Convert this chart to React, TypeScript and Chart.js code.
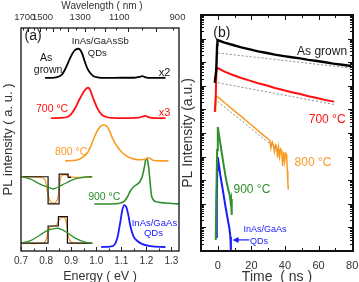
import React, { useEffect, useRef } from 'react';
import { Chart, registerables } from 'chart.js';

Chart.register(...registerables);

const FONT = '"Liberation Sans", Arial, Helvetica, sans-serif';
Chart.defaults.font.family = FONT;
Chart.defaults.color = '#333';

const RED = '#ff1010';
const ORANGE = '#f99a22';
const GREEN = '#2f8f2f';
const BLUE = '#1a1aff';
const DARK = '#1a1a1a';
const FIT = '#8a8a8a';

// ---------- Panel (a): PL spectra (energy eV, offset intensity) ----------
const asGrownE = [0.796, 0.84, 0.864, 0.876, 0.888, 0.9, 0.912, 0.92, 0.928, 0.936, 0.944, 0.954, 0.964, 0.976, 0.988, 1.004, 1.04, 1.1, 1.15, 1.172, 1.184, 1.196, 1.22, 1.276];
const asGrownI = [77.6, 77.9, 79.2, 81.5, 84.5, 87.5, 89.7, 90.5, 90.7, 90.2, 88.5, 85.0, 82.0, 79.8, 78.5, 77.9, 77.6, 77.7, 77.7, 78.1, 78.4, 77.9, 77.6, 77.7];

const a700E = [0.82, 0.856, 0.884, 0.9, 0.916, 0.936, 0.952, 0.962, 0.968, 0.974, 0.98, 0.992, 1.004, 1.02, 1.04, 1.064, 1.1, 1.136, 1.17, 1.184, 1.196, 1.208, 1.236, 1.276];
const a700I = [59.6, 59.7, 60.1, 61.4, 64.1, 68.6, 71.7, 73.0, 73.2, 72.6, 70.9, 67.3, 64.1, 61.4, 60.1, 59.7, 59.6, 59.6, 59.8, 60.3, 60.6, 60.0, 59.6, 59.6];

const a800E = [0.876, 0.924, 0.948, 0.964, 0.976, 0.988, 1.0, 1.012, 1.024, 1.032, 1.04, 1.048, 1.058, 1.068, 1.078, 1.088, 1.1, 1.116, 1.132, 1.148, 1.17, 1.19, 1.2, 1.208, 1.216, 1.228, 1.26, 1.288];
const a800I = [40.4, 40.8, 42.2, 43.9, 46.5, 49.8, 53.0, 55.3, 56.4, 56.5, 56.1, 55.0, 52.5, 49.8, 47.8, 46.2, 44.5, 43.0, 41.9, 41.3, 40.9, 41.0, 41.5, 41.8, 41.4, 40.6, 40.4, 40.4];

const a900E = [0.992, 1.056, 1.096, 1.112, 1.124, 1.136, 1.148, 1.164, 1.176, 1.184, 1.192, 1.198, 1.202, 1.208, 1.214, 1.22, 1.228, 1.244, 1.276, 1.332];
const a900I = [21.1, 21.1, 21.5, 22.4, 24.2, 26.9, 28.7, 30.0, 31.4, 33.6, 37.7, 41.2, 41.5, 38.5, 31.8, 25.1, 22.9, 22.0, 21.5, 21.1];

const gaasE = [1.02, 1.056, 1.072, 1.084, 1.096, 1.104, 1.112, 1.12, 1.128, 1.136, 1.148, 1.164, 1.184, 1.216, 1.276];
const gaasI = [1.8, 2.0, 2.7, 5.8, 13.0, 18.4, 20.6, 19.7, 16.1, 11.2, 6.7, 4.5, 3.1, 2.2, 1.8];

// band-profile insets
const insTopBlackE = [0.696, 0.808, 0.808, 0.852, 0.852, 0.888, 0.888, 0.9];
const insTopBlackI = [33.3, 33.3, 21.1, 21.1, 34.5, 34.5, 33.0, 33.0];
const insTopOrangeE = [0.696, 0.78, 0.795, 0.805, 0.815, 0.83, 0.845, 0.852, 0.86, 0.872, 0.885, 0.9, 0.984];
const insTopOrangeI = [33.2, 33.0, 32.0, 27.0, 22.5, 21.5, 23.0, 28.0, 33.5, 34.3, 33.8, 33.1, 33.0];
const insTopGreenE = [0.696, 0.736, 0.776, 0.816, 0.828, 0.848, 0.88, 0.916, 0.956, 0.984];
const insTopGreenI = [33.6, 32.3, 30.0, 28.3, 27.8, 28.7, 30.5, 32.3, 33.2, 33.3];

const insBotBlackE = [0.696, 0.808, 0.808, 0.849, 0.849, 0.885, 0.885, 0.984];
const insBotBlackI = [3.5, 3.5, 11.2, 11.2, 15.4, 15.4, 3.5, 3.5];
const insBotOrangeE = [0.696, 0.79, 0.8, 0.81, 0.82, 0.84, 0.85, 0.86, 0.875, 0.882, 0.89, 0.9, 0.92, 0.984];
const insBotOrangeI = [3.5, 3.6, 5.0, 9.5, 11.0, 11.4, 13.5, 15.0, 14.8, 12.0, 6.0, 4.0, 3.5, 3.5];
const insBotGreenE = [0.696, 0.736, 0.776, 0.808, 0.843, 0.856, 0.88, 0.916, 0.956, 0.984];
const insBotGreenI = [3.6, 4.5, 7.2, 9.4, 10.2, 9.9, 8.5, 5.8, 4.0, 3.5];

const energyTicks = [0.7, 0.8, 0.9, 1.0, 1.1, 1.2, 1.3];
const energyMinorTicks = [0.7, 0.75, 0.8, 0.85, 0.9, 0.95, 1.0, 1.05, 1.1, 1.15, 1.2, 1.25, 1.3];
const wavelengthLabels = ['1700', '1500', '1300', '1100', '900'];
const wavelengthLabelEnergy = [0.715, 0.786, 0.936, 1.092, 1.324];
const wavelengthMinorTicks = [1750, 1700, 1650, 1600, 1550, 1500, 1450, 1400, 1350, 1300, 1250, 1200, 1150, 1100, 1050, 1000, 950];

// ---------- Panel (b): decays (time ns, log10 intensity) ----------
const bGrownT = [-1.8, -0.9, -0.4, -0.2, 4, 9, 14, 19.1, 24, 29.3, 34, 39.4, 44, 49, 54, 59.1, 64, 68.7, 74, 79.4];
const bGrownL = [7.12, 7.67, 8.73, 8.94, 8.83, 8.73, 8.63, 8.54, 8.46, 8.39, 8.32, 8.26, 8.21, 8.16, 8.1, 8.05, 8.0, 7.94, 7.89, 7.84];
const bGrownFitT = [0, 79.4];
const bGrownFitL = [8.39, 7.75];

const b700T = [-1.8, -1.2, -0.8, 0, 4, 9, 14, 19.1, 24, 29.3, 34, 38.8, 44, 49, 54, 59.1, 64, 69.3];
const b700L = [5.89, 6.61, 7.75, 7.75, 7.6, 7.46, 7.33, 7.22, 7.11, 7.01, 6.91, 6.82, 6.73, 6.65, 6.56, 6.48, 6.4, 6.33];
const b700FitT = [0, 70];
const b700FitL = [7.13, 6.2];

const b800T = [-1.4, -0.8, 0, 5, 10, 15, 20, 25, 28, 30, 31, 31.6, 32.4, 33, 33.8, 34.4, 35, 35.6, 36.2, 36.8, 37.4, 38, 38.6, 39.2, 39.8, 40.4, 41, 41.4, 41.7, 42];
const b800L = [5.9, 6.55, 6.53, 6.23, 5.93, 5.64, 5.34, 5.04, 4.86, 4.74, 4.68, 4.35, 4.62, 4.5, 4.2, 4.5, 4.44, 3.95, 4.38, 4.0, 4.32, 4.26, 3.6, 4.2, 3.8, 4.14, 4.09, 3.4, 2.9, 2.6];
const b800FitT = [0, 37];
const b800FitL = [6.33, 4.2];

const b900T = [-1.2, -0.9, -0.4, 0, 1.2, 2.4, 3.6, 4.8, 6.0, 7.2, 7.6, 7.9, 8.2, 8.4];
const b900L = [0.47, 2.16, 4.28, 5.25, 4.7, 4.15, 3.6, 3.09, 2.67, 2.33, 2.1, 2.2, 1.8, 1.53];

const bGaasT = [-0.9, -0.6, -0.3, 0, 1.5, 3.0, 4.5, 6.0, 6.9, 7.5, 7.8];
const bGaasL = [0.59, 2.16, 3.43, 3.98, 3.22, 2.58, 1.91, 1.31, 0.97, 0.59, 0.0];

const timeTicks = [0, 20, 40, 60, 80];
const timeMinorTicks = [-10, 0, 10, 20, 30, 40, 50, 60, 70, 80];

type Ann = { t: string; x: number; y: number; c: string; s: number };

const annA: Ann[] = [
  { t: '(a)', x: 0.748, y: 96.4, c: DARK, s: 14 },
  { t: 'InAs/GaAsSb', x: 1.016, y: 94.2, c: DARK, s: 9.5 },
  { t: 'QDs', x: 1.004, y: 88.8, c: DARK, s: 9.5 },
  { t: 'As', x: 0.8, y: 86.5, c: DARK, s: 10.5 },
  { t: 'grown', x: 0.808, y: 81.2, c: DARK, s: 10.5 },
  { t: 'x2', x: 1.272, y: 79.8, c: DARK, s: 11 },
  { t: '700 °C', x: 0.824, y: 63.7, c: RED, s: 10.5 },
  { t: 'x3', x: 1.272, y: 61.9, c: RED, s: 11 },
  { t: '800 °C', x: 0.9, y: 44.4, c: ORANGE, s: 10.5 },
  { t: '900 °C', x: 1.032, y: 24.2, c: GREEN, s: 10.5 },
  { t: 'InAs/GaAs', x: 1.232, y: 12.6, c: BLUE, s: 9.5 },
  { t: 'QDs', x: 1.228, y: 8.1, c: BLUE, s: 9.5 },
];

const annB: Ann[] = [
  { t: '(b)', x: 2.4, y: 9.24, c: DARK, s: 14 },
  { t: 'As grown', x: 62.1, y: 8.43, c: DARK, s: 12 },
  { t: '700 °C', x: 65.1, y: 5.55, c: RED, s: 12 },
  { t: '800 °C', x: 56.7, y: 3.73, c: ORANGE, s: 12 },
  { t: '900 °C', x: 20.3, y: 2.58, c: GREEN, s: 12 },
  { t: 'InAs/GaAs', x: 28.1, y: 0.89, c: BLUE, s: 9 },
  { t: 'QDs', x: 24.5, y: 0.42, c: BLUE, s: 9 },
];
const arrowB = { x0: 18.8, x1: 8.8, y: 0.47 };

function pts(xs: number[], ys: number[], logY = false) {
  return xs.map((x, i) => ({ x, y: logY ? Math.pow(10, ys[i]) : ys[i] }));
}

function lineDs(xs: number[], ys: number[], color: string, width: number, extra: any = {}) {
  return {
    data: pts(xs, ys),
    borderColor: color,
    borderWidth: width,
    pointRadius: 0,
    fill: false,
    cubicInterpolationMode: 'monotone',
    ...extra,
  };
}

function logDs(xs: number[], ys: number[], color: string, width: number, extra: any = {}) {
  return {
    data: pts(xs, ys, true),
    borderColor: color,
    borderWidth: width,
    pointRadius: 0,
    fill: false,
    tension: 0,
    ...extra,
  };
}

function drawAnns(ctx: CanvasRenderingContext2D, chart: any, anns: Ann[], logY: boolean) {
  const xs = chart.scales.x;
  const ys = chart.scales.y;
  anns.forEach((a) => {
    ctx.font = `${a.s}px ${FONT}`;
    ctx.fillStyle = a.c;
    ctx.textAlign = 'center';
    ctx.textBaseline = 'middle';
    const py = ys.getPixelForValue(logY ? Math.pow(10, a.y) : a.y);
    ctx.fillText(a.t, xs.getPixelForValue(a.x), py);
  });
}

const panelAPlugin = {
  id: 'panelA',
  afterDraw(chart: any) {
    const { ctx, chartArea: a, scales } = chart;
    const xs = scales.x;
    ctx.save();
    ctx.strokeStyle = '#222';
    ctx.lineWidth = 1;
    ctx.beginPath();
    energyMinorTicks.forEach((v) => {
      const px = Math.round(xs.getPixelForValue(v)) + 0.5;
      const major = energyTicks.some((t) => Math.abs(t - v) < 1e-6);
      const L = major ? 4 : 2.5;
      ctx.moveTo(px, a.bottom);
      ctx.lineTo(px, a.bottom - L);
    });
    wavelengthMinorTicks.forEach((w) => {
      const e = 1240 / w;
      if (e < xs.min || e > xs.max) return;
      const px = Math.round(xs.getPixelForValue(e)) + 0.5;
      const L = w % 100 === 0 ? 4 : 2.5;
      ctx.moveTo(px, a.top);
      ctx.lineTo(px, a.top + L);
    });
    ctx.stroke();
    ctx.lineWidth = 1.4;
    ctx.strokeRect(a.left, a.top, a.right - a.left, a.bottom - a.top);
    // secondary (wavelength) axis labels and title
    ctx.fillStyle = '#333';
    ctx.textAlign = 'center';
    ctx.textBaseline = 'middle';
    ctx.font = `9.5px ${FONT}`;
    wavelengthLabels.forEach((lab, i) => {
      ctx.fillText(lab, xs.getPixelForValue(wavelengthLabelEnergy[i]), a.top - 11);
    });
    ctx.font = `10px ${FONT}`;
    ctx.fillText('Wavelength ( nm )', (a.left + a.right) / 2 + 2, a.top - 22);
    drawAnns(ctx, chart, annA, false);
    ctx.restore();
  },
};

const panelBPlugin = {
  id: 'panelB',
  afterDraw(chart: any) {
    const { ctx, chartArea: a, scales } = chart;
    const xs = scales.x;
    const ys = scales.y;
    ctx.save();
    ctx.strokeStyle = '#111';
    ctx.lineWidth = 1;
    ctx.beginPath();
    timeMinorTicks.forEach((v) => {
      const px = Math.round(xs.getPixelForValue(v)) + 0.5;
      const L = timeTicks.includes(v) ? 5 : 3;
      ctx.moveTo(px, a.bottom);
      ctx.lineTo(px, a.bottom - L);
      ctx.moveTo(px, a.top);
      ctx.lineTo(px, a.top + L);
    });
    for (let n = 0; n <= 10; n++) {
      for (let k = 1; k <= 9; k++) {
        if (n === 10 && k > 1) break;
        const v = k * Math.pow(10, n);
        const py = Math.round(ys.getPixelForValue(v)) + 0.5;
        const L = k === 1 ? 5 : 3;
        ctx.moveTo(a.left, py);
        ctx.lineTo(a.left + L, py);
        ctx.moveTo(a.right, py);
        ctx.lineTo(a.right - L, py);
      }
    }
    ctx.stroke();
    ctx.lineWidth = 2;
    ctx.strokeRect(a.left, a.top, a.right - a.left, a.bottom - a.top);
    drawAnns(ctx, chart, annB, true);
    // arrow
    const y = ys.getPixelForValue(Math.pow(10, arrowB.y));
    const x0 = xs.getPixelForValue(arrowB.x0);
    const x1 = xs.getPixelForValue(arrowB.x1);
    ctx.strokeStyle = BLUE;
    ctx.fillStyle = BLUE;
    ctx.lineWidth = 1.2;
    ctx.beginPath();
    ctx.moveTo(x0, y);
    ctx.lineTo(x1 + 4, y);
    ctx.stroke();
    ctx.beginPath();
    ctx.moveTo(x1, y);
    ctx.lineTo(x1 + 6, y - 3);
    ctx.lineTo(x1 + 6, y + 3);
    ctx.closePath();
    ctx.fill();
    ctx.restore();
  },
};

function fitX(h: number) {
  return (s: any) => {
    s.height = h;
    s.paddingLeft = 0;
    s.paddingRight = 0;
  };
}

function configA(): any {
  return {
    type: 'line',
    data: {
      datasets: [
        lineDs(insTopGreenE, insTopGreenI, GREEN, 1.3, { tension: 0.4, cubicInterpolationMode: 'default' }),
        lineDs(insTopBlackE, insTopBlackI, '#111', 1.2, { tension: 0, cubicInterpolationMode: 'default' }),
        lineDs(insTopOrangeE, insTopOrangeI, ORANGE, 1.3, { tension: 0.4, cubicInterpolationMode: 'default' }),
        lineDs(insBotGreenE, insBotGreenI, GREEN, 1.3, { tension: 0.4, cubicInterpolationMode: 'default' }),
        lineDs(insBotBlackE, insBotBlackI, '#111', 1.2, { tension: 0, cubicInterpolationMode: 'default' }),
        lineDs(insBotOrangeE, insBotOrangeI, ORANGE, 1.3, { tension: 0.4, cubicInterpolationMode: 'default' }),
        lineDs(asGrownE, asGrownI, '#000', 1.8),
        lineDs(a700E, a700I, RED, 1.8),
        lineDs(a800E, a800I, ORANGE, 1.6),
        lineDs(a900E, a900I, GREEN, 1.6),
        lineDs(gaasE, gaasI, BLUE, 1.8),
      ],
    },
    options: {
      responsive: false,
      animation: false,
      devicePixelRatio: 1,
      layout: { padding: { left: 0, top: 28, right: 180, bottom: 0 }, autoPadding: false },
      plugins: { legend: { display: false }, tooltip: { enabled: false } },
      scales: {
        x: {
          type: 'linear',
          position: 'bottom',
          min: 0.7,
          max: 1.33,
          afterBuildTicks: (s: any) => { s.ticks = energyTicks.map((v) => ({ value: v })); },
          afterFit: fitX(31),
          grid: { display: false, drawTicks: false },
          border: { display: false },
          ticks: {
            autoSkip: false, maxRotation: 0, padding: 4, color: '#333',
            font: { size: 10 },
            callback: (v: any) => Number(v).toFixed(1),
          },
          title: { display: true, text: 'Energy ( eV )', color: '#333', padding: 0, font: { size: 12.5, lineHeight: 0.8 } },
        },
        y: {
          type: 'linear',
          position: 'left',
          min: 0,
          max: 100,
          afterFit: (s: any) => { s.width = 21; s.paddingTop = 0; s.paddingBottom = 0; },
          grid: { display: false, drawTicks: false },
          border: { display: false },
          ticks: { display: false },
          title: { display: true, text: 'PL intensity ( a. u. )', color: '#333', padding: 0, font: { size: 13, lineHeight: 16 / 13 } },
        },
      },
    },
    plugins: [panelAPlugin],
  };
}

function configB(): any {
  return {
    type: 'line',
    data: {
      datasets: [
        logDs(bGrownFitT, bGrownFitL, FIT, 1, { borderDash: [2, 2] }),
        logDs(b700FitT, b700FitL, FIT, 1, { borderDash: [2, 2] }),
        logDs(b800FitT, b800FitL, FIT, 1, { borderDash: [2, 2] }),
        logDs(bGrownT, bGrownL, '#000', 2.4),
        logDs(b700T, b700L, RED, 2),
        logDs(b800T, b800L, ORANGE, 1.5),
        logDs(b900T, b900L, GREEN, 2),
        logDs(bGaasT, bGaasL, BLUE, 2),
      ],
    },
    options: {
      responsive: false,
      animation: false,
      devicePixelRatio: 1,
      layout: { padding: { left: 180, top: 15, right: 6, bottom: 0 }, autoPadding: false },
      plugins: { legend: { display: false }, tooltip: { enabled: false } },
      scales: {
        x: {
          type: 'linear',
          position: 'bottom',
          min: -10,
          max: 80.5,
          afterBuildTicks: (s: any) => { s.ticks = timeTicks.map((v) => ({ value: v })); },
          afterFit: fitX(31),
          grid: { display: false, drawTicks: false },
          border: { display: false },
          ticks: { autoSkip: false, maxRotation: 0, padding: 8, color: '#333', font: { size: 11 } },
          title: { display: true, text: 'Time  ( ns )', color: '#333', padding: 0, font: { size: 14, lineHeight: 10 / 14 } },
        },
        y: {
          type: 'logarithmic',
          position: 'left',
          min: 1,
          max: 1e10,
          afterFit: (s: any) => { s.width = 21; s.paddingTop = 0; s.paddingBottom = 0; },
          grid: { display: false, drawTicks: false },
          border: { display: false },
          ticks: { display: false },
          title: { display: true, text: 'PL Intensity (a.u.)', color: '#333', padding: 0, font: { size: 14, lineHeight: 16 / 14 } },
        },
      },
    },
    plugins: [panelBPlugin],
  };
}

export default function App() {
  const refA = useRef<HTMLCanvasElement>(null);
  const refB = useRef<HTMLCanvasElement>(null);
  useEffect(() => {
    const ca = new Chart(refA.current as HTMLCanvasElement, configA());
    const cb = new Chart(refB.current as HTMLCanvasElement, configB());
    return () => {
      ca.destroy();
      cb.destroy();
    };
  }, []);
  return (
    <div style={{ position: 'fixed', left: 0, top: 0, width: 359, height: 282, background: '#fff', overflow: 'hidden' }}>
      <canvas ref={refA} width={359} height={282} style={{ position: 'absolute', left: 0, top: 0 }} />
      <canvas ref={refB} width={359} height={282} style={{ position: 'absolute', left: 0, top: 0 }} />
    </div>
  );
}
